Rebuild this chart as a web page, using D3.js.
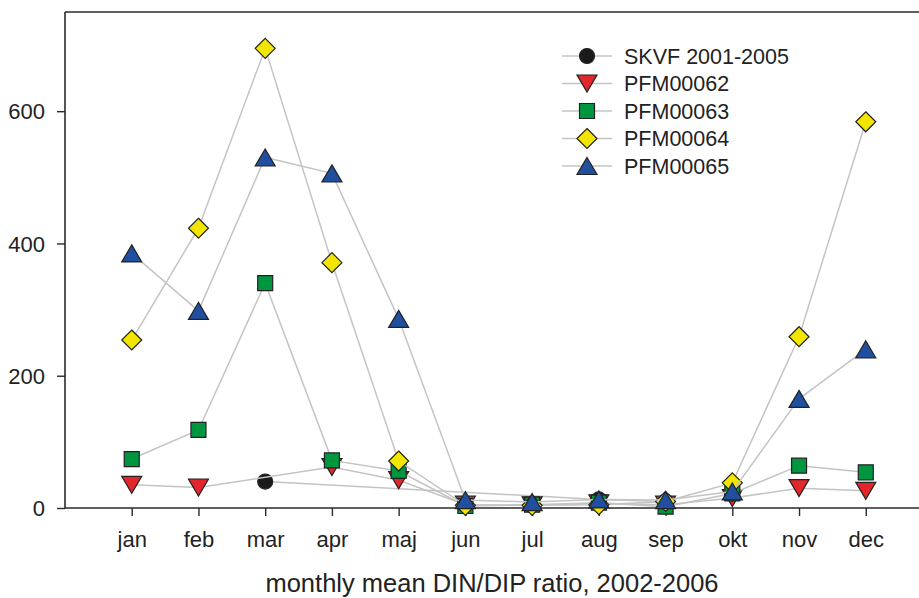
<!DOCTYPE html>
<html>
<head>
<meta charset="utf-8">
<script src="https://cdn.jsdelivr.net/npm/d3@7"></script>
<style>
  html, body { margin: 0; padding: 0; background: #fff; }
  svg { display: block; }
  text { font-family: "Liberation Sans", Arial, sans-serif; fill: #222; }
</style>
</head>
<body>
<svg id="chart" width="919" height="598"></svg>
<script>
// Months on the x axis
const months = ["jan", "feb", "mar", "apr", "maj", "jun", "jul", "aug", "sep", "okt", "nov", "dec"];
const yTicks = [0, 200, 400, 600];

// Monthly mean DIN/DIP ratio per station (null = no value)
const skvf     = [null, null, 40, null, null, null, null, 13, 10, null, null, null];
const pfm00062 = [35, 31, null, 62, 42, 5, 4, 7, 5, 15, 30, 26];
const pfm00063 = [74, 118, 340, 72, 56, 3, 5, 8, 2, 22, 64, 54];
const pfm00064 = [254, 423, 695, 371, 71, 4, 4, 5, 10, 38, 259, 584];
const pfm00065 = [385, 298, 530, 506, 286, 12, 9, 13, 12, 25, 165, 240];

const seriesNames = ["SKVF 2001-2005", "PFM00062", "PFM00063", "PFM00064", "PFM00065"];
const seriesValues = [skvf, pfm00062, pfm00063, pfm00064, pfm00065];
const seriesColors = ["#1a1a1a", "#e3262b", "#00963f", "#f2e600", "#1f4f9e"];
const seriesShapes = ["circle", "triDown", "square", "diamond", "triUp"];

const svg = d3.select("#chart");
const W = 919, H = 598;

const x = d3.scaleLinear().domain([0, 13]).range([65, 932.5]);
const y = d3.scaleLinear().domain([0, 750]).range([508, 12]);

function shapePath(kind) {
  switch (kind) {
    case "circle": return "M7.5,0A7.5,7.5 0 1,1 -7.5,0A7.5,7.5 0 1,1 7.5,0Z";
    case "triDown": return "M-10,-8.5L10,-8.5L0,8.5Z";
    case "triUp": return "M0,-8.5L10,8.5L-10,8.5Z";
    case "square": return "M-7.5,-7.5L7.5,-7.5L7.5,7.5L-7.5,7.5Z";
    case "diamond": return "M0,-10L10,0L0,10L-10,0Z";
  }
}

// Frame: left axis, top border, bottom axis
const frame = svg.append("g").attr("stroke", "#2a2a2a").attr("stroke-width", 1.6).attr("fill", "none");
frame.append("line").attr("x1", 65).attr("x2", 65).attr("y1", 12).attr("y2", 508);
frame.append("line").attr("x1", 65).attr("x2", W).attr("y1", 12).attr("y2", 12);

// Y axis
const yAxis = svg.append("g").attr("transform", "translate(65,0)")
  .call(d3.axisLeft(y).tickValues(yTicks).tickSize(8).tickPadding(12).tickFormat(d3.format("d")));
yAxis.select(".domain").remove();
yAxis.selectAll(".tick line").attr("stroke", "#2a2a2a").attr("stroke-width", 1.4);
yAxis.selectAll(".tick text").style("font-size", "22px").attr("fill", "#222").attr("dy", "0.35em");

// X axis
const xAxis = svg.append("g").attr("transform", "translate(0,508)")
  .call(d3.axisBottom(x).tickValues(d3.range(1, 13)).tickSize(8).tickPadding(15)
    .tickFormat(i => months[i - 1]));
xAxis.select(".domain").remove();
xAxis.selectAll(".tick line").attr("stroke", "#2a2a2a").attr("stroke-width", 1.4);
xAxis.selectAll(".tick text").style("font-size", "22px").attr("fill", "#222");
svg.append("line").attr("x1", 65).attr("x2", W).attr("y1", 508).attr("y2", 508)
  .attr("stroke", "#2a2a2a").attr("stroke-width", 1.6);

// Axis title
svg.append("text").attr("x", 492).attr("y", 592).attr("text-anchor", "middle")
  .style("font-size", "25.5px").text("monthly mean DIN/DIP ratio, 2002-2006");

// Series: connecting line then symbols
const line = d3.line().x(d => x(d.i)).y(d => y(d.v));
seriesValues.forEach((vals, s) => {
  const pts = vals.map((v, k) => ({ i: k + 1, v })).filter(d => d.v !== null);
  const g = svg.append("g");
  g.append("path").datum(pts).attr("d", line)
    .attr("fill", "none").attr("stroke", "#c4c4c4").attr("stroke-width", 1.5);
  g.selectAll("path.m").data(pts).join("path").attr("class", "m")
    .attr("transform", d => `translate(${x(d.i)},${y(d.v)})`)
    .attr("d", shapePath(seriesShapes[s]))
    .attr("fill", seriesColors[s]).attr("stroke", "#222").attr("stroke-width", 1.2);
});

// Legend
const legend = svg.append("g");
seriesNames.forEach((name, s) => {
  const cy = 56 + s * 27.5;
  legend.append("line").attr("x1", 562).attr("x2", 612).attr("y1", cy).attr("y2", cy)
    .attr("stroke", "#c4c4c4").attr("stroke-width", 1.5);
  legend.append("path").attr("transform", `translate(587,${cy})`)
    .attr("d", shapePath(seriesShapes[s]))
    .attr("fill", seriesColors[s]).attr("stroke", "#222").attr("stroke-width", 1.2);
  legend.append("text").attr("x", 624).attr("y", cy).attr("dy", "0.36em")
    .style("font-size", "21.5px").text(name);
});
</script>
</body>
</html>
